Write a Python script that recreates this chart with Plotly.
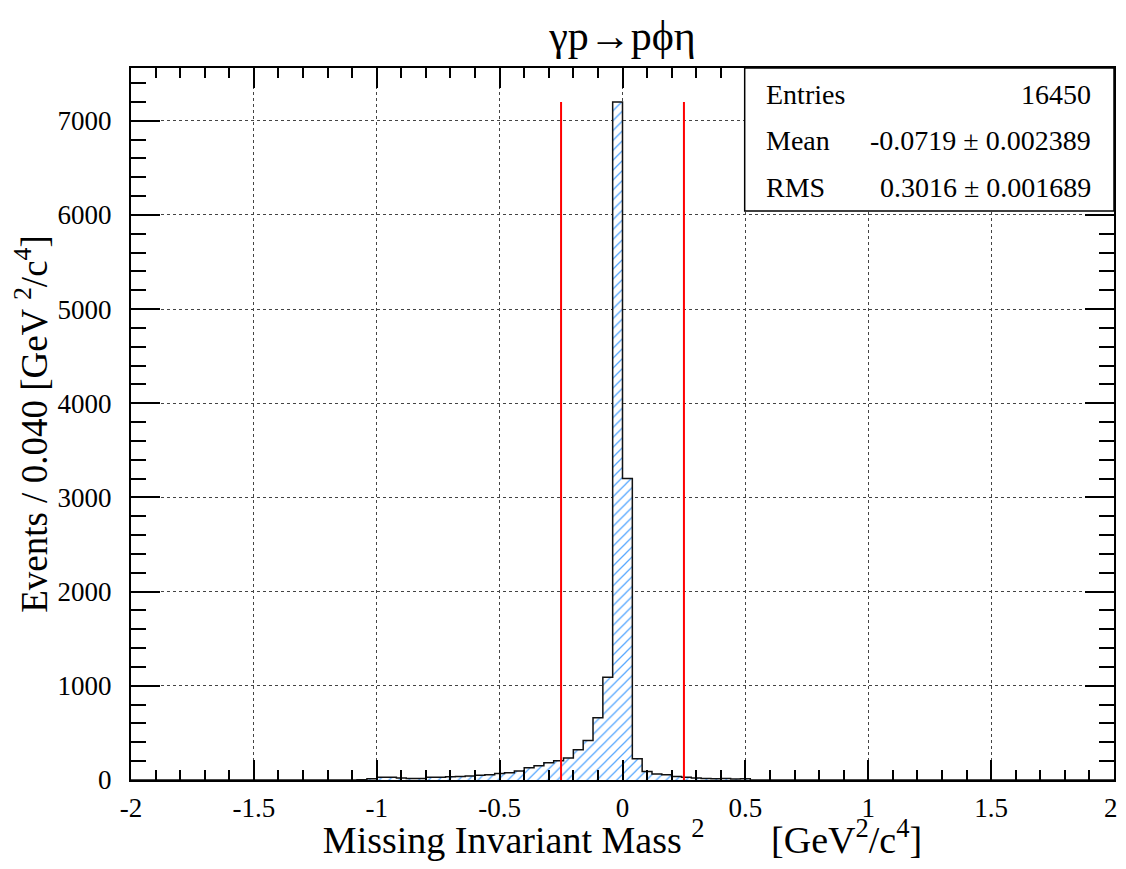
import numpy as np
import plotly.graph_objects as go

# ---- data ----
bin_width = 0.04
x_min, x_max = -2.0, 2.0
first_filled_edge = -1.08
counts = [3, 12, 28, 28, 20, 17, 17, 28, 28, 35, 38, 42, 50, 55, 68, 78, 95, 130,
          150, 182, 205, 234, 320, 420, 660, 1090, 7200, 3200, 225, 90, 65, 55, 38,
          30, 20, 15, 12, 15, 10, 12]
cut_lo, cut_hi = -0.25, 0.25
stats_labels = ["Entries", "Mean", "RMS"]
stats_values = ["16450", "-0.0719 \u00b1 0.002389", "0.3016 \u00b1 0.001689"]
x_tickvals = [-2, -1.5, -1, -0.5, 0, 0.5, 1, 1.5, 2]
x_ticktext = ["-2", "-1.5", "-1", "-0.5", "0", "0.5", "1", "1.5", "2\u00a0"]
y_tickvals = [0, 1000, 2000, 3000, 4000, 5000, 6000, 7000]
y_ticktext = ["0", "1000", "2000", "3000", "4000", "5000", "6000", "7000"]

# full binning
n_bins = int(round((x_max - x_min) / bin_width))
edges = x_min + bin_width * np.arange(n_bins + 1)
full = np.zeros(n_bins)
start = int(round((first_filled_edge - x_min) / bin_width))
full[start:start + len(counts)] = counts
centers = 0.5 * (edges[:-1] + edges[1:])
ymax = 1.05 * full.max()

FONT = "Liberation Serif"
OFF = 8  # default page body margin
W, H = 1126 - 2 * OFF, 869 - 2 * OFF

fig = go.Figure()
fig.add_trace(go.Bar(
    x=centers, y=full, width=bin_width,
    marker=dict(color="white", line=dict(width=0),
                pattern=dict(shape="/", fgcolor="#57a8ff", bgcolor="white",
                             size=7, solidity=0.18, fillmode="replace")),
    showlegend=False, hoverinfo="skip"))
fig.add_trace(go.Scatter(
    x=edges, y=np.append(full, full[-1]), mode="lines", line_shape="hv",
    line=dict(color="#111111", width=1.5), showlegend=False, hoverinfo="skip"))
for c in (cut_lo, cut_hi):
    fig.add_trace(go.Scatter(x=[c, c], y=[0, full.max()], mode="lines",
                             line=dict(color="#ff0000", width=2),
                             showlegend=False, hoverinfo="skip"))

# pixel geometry of the plot frame (page coordinates)
L, R, T, B = 131, 1114.5, 68, 780
def px(xp):
    return (xp - L) / (R - L)
def py(yp):
    return (B - yp) / (B - T)

fig.add_shape(type="rect", xref="paper", yref="paper", x0=px(745), x1=1.0,
              y0=py(211), y1=1.0, line=dict(color="black", width=1.5),
              fillcolor="white", layer="above")
rows_y = [95, 141, 188]
for lab, val, yy in zip(stats_labels, stats_values, rows_y):
    fig.add_annotation(x=px(764), y=py(yy), xref="paper", yref="paper", text=lab,
                       showarrow=False, xanchor="left", yanchor="middle",
                       font=dict(family=FONT, size=28, color="black"))
    fig.add_annotation(x=px(1093), y=py(yy), xref="paper", yref="paper", text=val,
                       showarrow=False, xanchor="right", yanchor="middle",
                       font=dict(family=FONT, size=28, color="black"))

fig.update_layout(
    width=W, height=H, autosize=False,
    margin=dict(l=L - OFF, r=(OFF + W) - R, t=T - OFF, b=(OFF + H) - B,
                autoexpand=False),
    paper_bgcolor="white", plot_bgcolor="white",
    bargap=0,
    font=dict(family=FONT, color="black"),
    title=dict(text="\u03b3p\u2192p\u03d5\u03b7", x=0.5, xref="paper", xanchor="center",
               y=1 - (35 - OFF) / H, yanchor="middle",
               font=dict(family=FONT, size=42, color="black")),
)
fig.update_xaxes(
    range=[x_min, x_max], tickvals=x_tickvals, ticktext=x_ticktext,
    ticks="inside", ticklen=20, tickwidth=2, tickcolor="black",
    showline=True, linecolor="black", linewidth=2, mirror="allticks",
    showgrid=True, gridcolor="#444444", griddash="dot", gridwidth=1,
    zeroline=False, ticklabelstandoff=3, ticklabeloverflow="allow", automargin=False,
    tickfont=dict(family=FONT, size=27, color="black"),
    minor=dict(dtick=0.1, ticks="inside", ticklen=10, tickwidth=2, tickcolor="black",
               showgrid=False),
    title=dict(text="Missing Invariant Mass <sup>2</sup>\u00a0\u00a0\u00a0\u00a0\u00a0\u00a0\u00a0[GeV<sup>2</sup>/c<sup>4</sup>]",
               font=dict(family=FONT, size=38, color="black"), standoff=15),
)
fig.update_yaxes(
    range=[0, ymax], tickvals=y_tickvals, ticktext=y_ticktext,
    ticks="inside", ticklen=29, tickwidth=2, tickcolor="black",
    showline=True, linecolor="black", linewidth=2, mirror="allticks",
    showgrid=True, gridcolor="#444444", griddash="dot", gridwidth=1,
    zeroline=False, ticklabelstandoff=12, automargin=False,
    tickfont=dict(family=FONT, size=27, color="black"),
    minor=dict(dtick=200, ticks="inside", ticklen=15, tickwidth=2, tickcolor="black",
               showgrid=False),
    title=dict(text="Events / 0.040 [GeV <sup>2</sup>/c<sup>4</sup>]",
               font=dict(family=FONT, size=37, color="black"), standoff=4),
)

fig.write_html("out.html", config={"displayModeBar": False})
